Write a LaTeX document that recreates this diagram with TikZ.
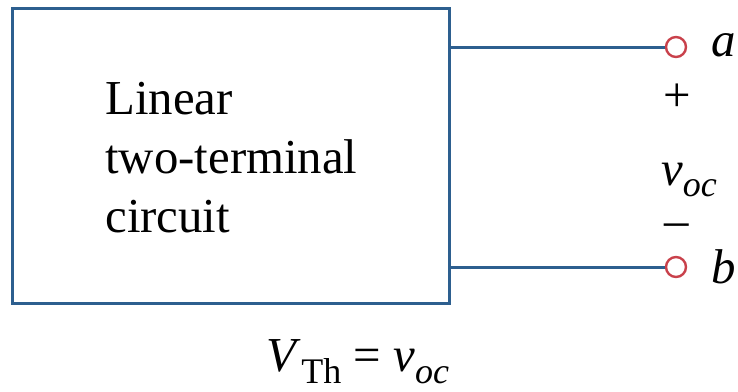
\documentclass[tikz,border=0pt]{standalone}
\usepackage{fontspec}
\setmainfont{Liberation Serif}
\usepackage{tikz}
\usetikzlibrary{positioning,calc}
\definecolor{cWire}{HTML}{2D5F8F}
\definecolor{cTerm}{HTML}{C9414B}
\newcommand{\lowsub}[1]{\raisebox{-0.24em}{\fontsize{18}{20}\selectfont #1}}
\tikzset{
  blk/.style={draw=cWire, line width=1.5pt, minimum width=218.5pt,
              minimum height=147.25pt, inner sep=0pt},
  wire/.style={draw=cWire, line width=1.5pt},
  term/.style={circle, draw=cTerm, line width=1.2pt, fill=white,
               minimum size=10pt, inner sep=0pt},
  txt/.style={font=\fontsize{24.4}{29.5}\selectfont, inner sep=0pt},
  lbl/.style={txt, font=\fontsize{24.4}{29.5}\selectfont\itshape},
}

\begin{document}
\begin{tikzpicture}[x=0.5pt, y=-0.5pt]
  \useasboundingbox (0,0) rectangle (738,391);
  \node[blk] (box) at (230.5,155.75) {};
  \node[txt, align=left, anchor=west] (name) at (105,158) {Linear\\two-terminal\\circuit};
  \node[term] (ta) at (676,47) {};
  \node[term] (tb) at (676,267) {};
  \node[lbl] (la) at (724,45) {a};
  \node[lbl] (lb) at (724,267) {b};
  \node[txt] (plus) at (677,98) {+};
  \node[txt] (voc) at (689,180) {\textit{v}\lowsub{\textit{oc}}};
  \node[txt] (minus) at (677,230) {\textendash};
  \node[txt] (vth) at (358,362) {\textit{V}\lowsub{Th} = \textit{v}\lowsub{\textit{oc}}};

  \draw[wire] (ta -| box.east) -- (ta.west);
  \draw[wire] (tb -| box.east) -- (tb.west);
\end{tikzpicture}
\end{document}
